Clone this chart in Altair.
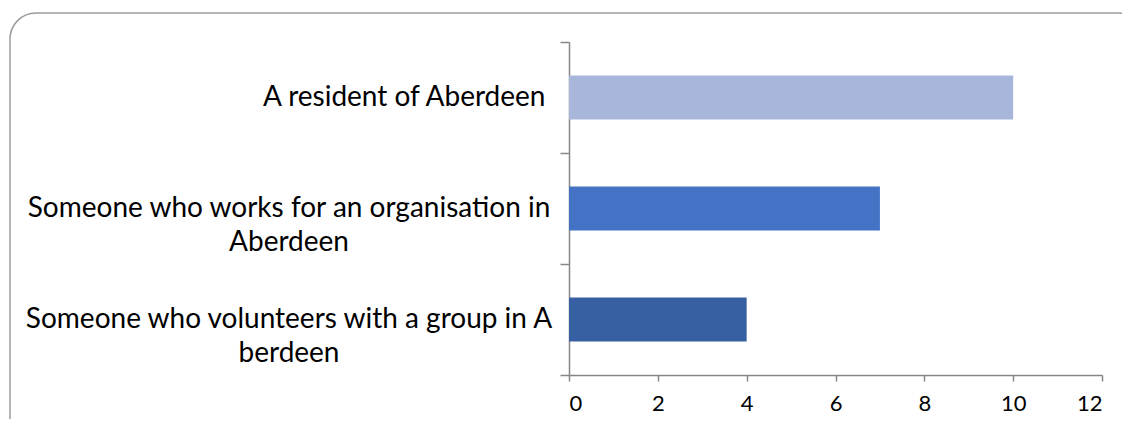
import altair as alt
import pandas as pd

categories = [
    "A resident of Aberdeen",
    "Someone who works for an organisation in\nAberdeen",
    "Someone who volunteers with a group in A\nberdeen",
]
values = [10, 7, 4]
colors = ["#A7B6DA", "#4472C4", "#3760A3"]
x_ticks = [0, 2, 4, 6, 8, 10, 12]

df = pd.DataFrame({"cat": categories, "val": values, "color": colors})

FONT = "Lato"
CHAR_W = 12.8

y_enc = alt.Y(
    "cat:N",
    sort=categories,
    scale=alt.Scale(paddingInner=0, paddingOuter=0),
    axis=alt.Axis(
        title=None,
        labels=False,
        tickBand="extent",
        tickSize=9,
        tickColor="#868686",
        tickWidth=1.5,
        domainColor="#868686",
        domainWidth=1.5,
    ),
)

bars = alt.Chart(df).mark_bar(size=44).encode(
    x=alt.X(
        "val:Q",
        scale=alt.Scale(domain=[0, 12], nice=False),
        axis=alt.Axis(
            title=None,
            values=x_ticks,
            grid=False,
            tickSize=6,
            tickColor="#868686",
            tickWidth=1.5,
            domainColor="#868686",
            domainWidth=1.5,
            labelFont=FONT,
            labelFontSize=22,
            labelColor="#000000",
            labelPadding=12,
        ),
    ),
    y=y_enc,
    color=alt.Color("color:N", scale=None, legend=None),
)

labels = (
    alt.Chart(df)
    .transform_calculate(
        lines="split(datum.cat, '\\n')",
        lx=f"-24 - length(split(datum.cat, '\\n')[0]) * {CHAR_W} / 2",
    )
    .mark_text(align="center", baseline="middle", font=FONT, fontSize=28,
               lineHeight=34, color="#000000")
    .encode(
        x=alt.X("lx:Q", scale=None),
        y=alt.Y("cat:N", sort=categories),
        text="lines:N",
    )
)

frame = (
    alt.Chart(alt.Data(values=[{"a": 1}]))
    .mark_rect(filled=False, stroke="#9C9C9C", strokeWidth=1.5, cornerRadius=26)
    .encode(
        x=alt.value(-559),
        x2=alt.value(575),
        y=alt.value(-29),
        y2=alt.value(420),
    )
)

chart = (
    alt.layer(frame, bars, labels)
    .properties(
        width=533,
        height=333,
        padding={"left": 561, "top": 34, "right": 20, "bottom": 44},
        autosize=alt.AutoSizeParams(type="none"),
        background="#FFFFFF",
    )
    .configure_view(stroke=None, strokeWidth=0)
)

chart.save("out.html", embed_options={"renderer": "svg", "actions": False})
